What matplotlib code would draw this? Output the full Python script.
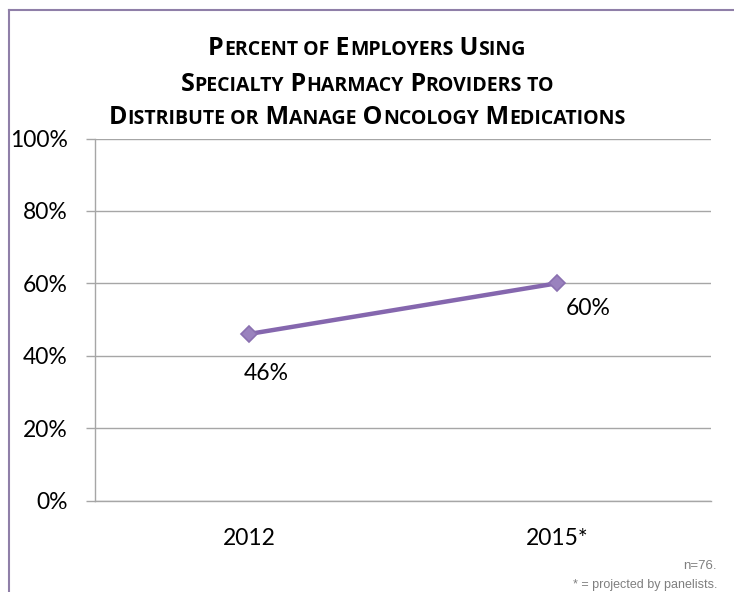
import matplotlib
matplotlib.use('Agg')
import matplotlib.pyplot as plt
from matplotlib.lines import Line2D

# data
years = ['2012', '2015*']
values = [46, 60]
yticks = [0, 20, 40, 60, 80, 100]
title_lines = [
	'Percent of Employers Using',
	'Specialty Pharmacy Providers to',
	'Distribute or Manage Oncology Medications',
]
small_words = {'of', 'or', 'to'}
# pixel offsets of the data labels from their points
label_offsets = [(17, -40), (31, -25.5)]

W, H = 734, 592
fig = plt.figure(figsize=(W / 100, H / 100), dpi=100)
ax = fig.add_axes([95 / W, 1 - 500.5 / H, (711 - 95) / W, (500.5 - 138.5) / H])

purple = '#8567AE'
grid = '#A6A6A6'
font = 'Lato'
fsz = 16.5

x = list(range(len(years)))
ax.plot(x, values, color=purple, lw=3.2, marker='D', ms=8.5, mfc='#9A82BE', mec='#8A70B0', mew=1.2, zorder=3, solid_capstyle='round')
for xi, v, (dx, dy) in zip(x, values, label_offsets):
	ax.annotate('%d%%' % v, (xi, v), xytext=(dx * 0.72, dy * 0.72), textcoords='offset points',
		ha='center', va='center', fontsize=fsz, family=font, color='#000000')

ax.set_xlim(-0.5, 1.5)
ax.set_ylim(0, 100)
ax.set_yticks(yticks)
ax.set_yticklabels(['%d%%' % t for t in yticks], family=font, fontsize=fsz)
ax.set_xticks(x)
ax.set_xticklabels(years, family=font, fontsize=fsz)
ax.tick_params(axis='y', length=6.5, width=1, color=grid, pad=13)
ax.tick_params(axis='x', length=0, pad=19.5)
ax.grid(axis='y', color=grid, lw=1)
ax.set_axisbelow(True)
for s in ['top', 'right']:
	ax.spines[s].set_visible(False)
for s in ['left', 'bottom']:
	ax.spines[s].set_color(grid)
	ax.spines[s].set_linewidth(1)

# outer frame (left and top only)
frame = '#8F7FA8'
fig.add_artist(Line2D([9 / W, 9 / W], [0, 1 - 10 / H], color=frame, lw=1.5, transform=fig.transFigure))
fig.add_artist(Line2D([9 / W, 1], [1 - 10 / H, 1 - 10 / H], color=frame, lw=1.5, transform=fig.transFigure))

# small caps title, piece by piece
renderer = fig.canvas.get_renderer()
tfont = 'Open Sans'
big, small = 18, 14
line_y = [55, 91.5, 124]
for line, yy in zip(title_lines, line_y):
	pieces = []
	for i, word in enumerate(line.split(' ')):
		sep = ' ' if i > 0 else ''
		if word.lower() in small_words:
			pieces.append((sep + word.upper(), small))
		else:
			pieces.append((sep + word[0].upper(), big))
			pieces.append((word[1:].upper(), small))
	texts = []
	xpos = 0
	for s, fs in pieces:
		t = fig.text(0, 1 - yy / H, s, fontsize=fs, fontweight='bold', family=tfont, va='baseline', ha='left')
		w = t.get_window_extent(renderer).width
		texts.append((t, xpos))
		xpos += w
	start = 367 - xpos / 2
	for t, off in texts:
		t.set_x((start + off) / W)

fig.text(717 / W, 1 - 566 / H, 'n=76.', ha='right', va='center', fontsize=9.5, family='Liberation Sans', color='#7F7F7F')
fig.text(717 / W, 1 - 585 / H, '* = projected by panelists.', ha='right', va='center', fontsize=9, family='Liberation Sans', color='#7F7F7F')

fig.savefig('out.png', dpi=100)
